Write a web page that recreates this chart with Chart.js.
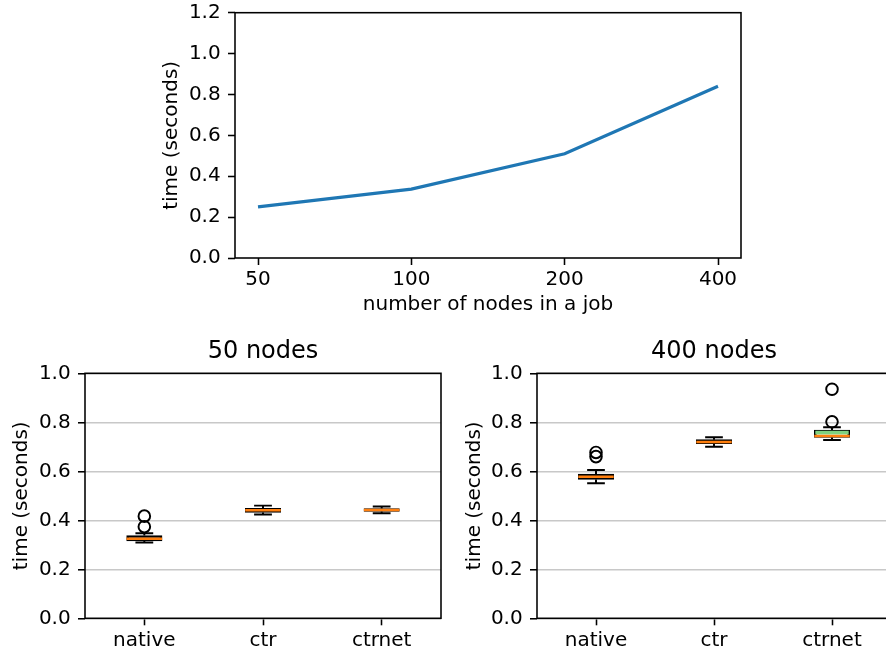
<!DOCTYPE html>
<html>
<head>
<meta charset="utf-8">
<script src="https://cdn.jsdelivr.net/npm/chart.js@4"></script>
<style>
  html, body { margin: 0; padding: 0; background: #fff; overflow: hidden; }
  body { width: 886px; height: 654px; position: relative; }
  .box { position: absolute; }
</style>
</head>
<body>
<div class="box" style="left:0;top:0;width:886px;height:320px"><canvas id="top"></canvas></div>
<div class="box" style="left:0;top:320px;width:450px;height:334px"><canvas id="left"></canvas></div>
<div class="box" style="left:451px;top:320px;width:449px;height:334px"><canvas id="right"></canvas></div>
<script>
// top panel: mean time vs job size
var nodeCounts = ['50', '100', '200', '400'];
var meanTime = [0.25, 0.337, 0.51, 0.84];
var topTicks = [0, 0.2, 0.4, 0.6, 0.8, 1.0, 1.2];

// box plots
var variants = ['native', 'ctr', 'ctrnet'];
var boxTicks = [0, 0.2, 0.4, 0.6, 0.8, 1.0];

// 50 nodes: [whisker low, q1, median, q3, whisker high]
var stats50 = [
  [0.309, 0.316, 0.325, 0.338, 0.347],
  [0.424, 0.432, 0.441, 0.449, 0.46],
  [0.429, 0.436, 0.442, 0.448, 0.456]
];
var outliers50 = [[0.374, 0.417], [], []];
var means50 = [null, null, null];

// 400 nodes
var stats400 = [
  [0.551, 0.567, 0.578, 0.589, 0.605],
  [0.70, 0.713, 0.72, 0.729, 0.739],
  [0.728, 0.738, 0.744, 0.768, 0.78]
];
var outliers400 = [[0.66, 0.677], [], [0.802, 0.935]];
var means400 = [null, null, 0.758];

Chart.defaults.font.family = 'DejaVu Sans';
Chart.defaults.font.size = 20;
Chart.defaults.color = '#000';
Chart.defaults.animation = false;

var PT = 1.95;

var framePlugin = {
  id: 'frame',
  afterDraw: function (chart) {
    var a = chart.chartArea, ctx = chart.ctx;
    ctx.save();
    ctx.strokeStyle = '#000';
    ctx.lineWidth = 0.8 * PT;
    ctx.strokeRect(a.left, a.top, a.right - a.left, a.bottom - a.top);
    ctx.restore();
  }
};

function fixedTicks(list) {
  return function (scale) {
    scale.ticks = list.map(function (v) { return { value: v }; });
  };
}

// Top line chart
new Chart(document.getElementById('top'), {
  type: 'line',
  data: {
    datasets: [{
      data: meanTime.map(function (v, i) { return { x: i, y: v }; }),
      borderColor: '#1f77b4',
      borderWidth: 1.6 * PT,
      pointRadius: 0,
      tension: 0,
      fill: false
    }]
  },
  options: {
    responsive: true,
    maintainAspectRatio: false,
    layout: { padding: { left: 160, right: 145, top: 12.7, bottom: 0 } },
    plugins: { legend: { display: false }, tooltip: { enabled: false } },
    scales: {
      x: {
        type: 'linear',
        min: -0.15, max: 3.15,
        afterBuildTicks: fixedTicks([0, 1, 2, 3]),
        afterFit: function (s) { s.height = 62; },
        ticks: { padding: 3, maxRotation: 0, callback: function (v) { return nodeCounts[v]; } },
        grid: { drawOnChartArea: false, tickLength: 7, tickColor: '#000', tickWidth: 0.8 * PT },
        border: { display: false },
        title: { display: true, text: 'number of nodes in a job', padding: { top: 0, bottom: 3 } }
      },
      y: {
        min: 0, max: 1.2,
        afterBuildTicks: fixedTicks(topTicks),
        afterFit: function (s) { s.width = 75; s.paddingTop = 0; s.paddingBottom = 0; },
        ticks: { padding: 7.3, callback: function (v) { return v.toFixed(1); } },
        grid: { drawOnChartArea: false, tickLength: 7, tickColor: '#000', tickWidth: 0.8 * PT },
        border: { display: false },
        title: { display: true, text: 'time (seconds)', padding: { top: 0, bottom: 0 } }
      }
    }
  },
  plugins: [framePlugin]
});

// whiskers, caps, medians and means drawn on the library scales
var whiskerPlugin = {
  id: 'whiskers',
  afterDatasetsDraw: function (chart) {
    var st = chart.options.plugins.whiskers;
    var xs = chart.scales.x, ys = chart.scales.y, ctx = chart.ctx;
    var half = (xs.getPixelForValue(1.15) - xs.getPixelForValue(1)) / 2;
    var boxHalf = xs.getPixelForValue(1.15) - xs.getPixelForValue(1);
    ctx.save();
    ctx.lineCap = 'butt';
    st.stats.forEach(function (s, i) {
      var cx = xs.getPixelForValue(i + 1);
      var lo = ys.getPixelForValue(s[0]), q1 = ys.getPixelForValue(s[1]);
      var md = ys.getPixelForValue(s[2]), q3 = ys.getPixelForValue(s[3]);
      var hi = ys.getPixelForValue(s[4]);
      ctx.strokeStyle = '#000';
      ctx.lineWidth = PT;
      ctx.beginPath();
      ctx.moveTo(cx, q1); ctx.lineTo(cx, lo);
      ctx.moveTo(cx, q3); ctx.lineTo(cx, hi);
      ctx.moveTo(cx - half, lo); ctx.lineTo(cx + half, lo);
      ctx.moveTo(cx - half, hi); ctx.lineTo(cx + half, hi);
      ctx.stroke();
      if (st.means[i] != null) {
        var mn = ys.getPixelForValue(st.means[i]);
        ctx.strokeStyle = '#7fd17f';
        ctx.lineWidth = 2 * PT;
        ctx.beginPath();
        ctx.moveTo(cx - boxHalf + 1, mn); ctx.lineTo(cx + boxHalf - 1, mn);
        ctx.stroke();
      }
      ctx.strokeStyle = '#ff7f0e';
      ctx.lineWidth = 1.3 * PT;
      ctx.beginPath();
      ctx.moveTo(cx - boxHalf, md); ctx.lineTo(cx + boxHalf, md);
      ctx.stroke();
    });
    ctx.restore();
  }
};

function boxChart(id, title, stats, outliers, means, yPadLeft, yWidth) {
  var fliers = [];
  outliers.forEach(function (list, i) {
    list.forEach(function (v) { fliers.push({ x: i + 1, y: v }); });
  });
  return new Chart(document.getElementById(id), {
    type: 'bar',
    data: {
      datasets: [{
        type: 'bar',
        data: stats.map(function (s, i) { return { x: i + 1, y: [s[1], s[3]] }; }),
        backgroundColor: 'rgba(255,255,255,0)',
        borderColor: '#000',
        borderWidth: PT,
        borderSkipped: false,
        barThickness: 35.4,
        order: 2
      }, {
        type: 'scatter',
        data: fliers,
        pointStyle: 'circle',
        pointRadius: 5.8,
        pointBackgroundColor: 'rgba(0,0,0,0)',
        pointBorderColor: '#000',
        pointBorderWidth: PT,
        order: 1
      }]
    },
    options: {
      responsive: true,
      maintainAspectRatio: false,
      layout: { padding: { left: yPadLeft, right: 9, top: 0, bottom: 0 } },
      plugins: {
        legend: { display: false },
        tooltip: { enabled: false },
        title: {
          display: true, text: title, fullSize: false,
          font: { size: 24, weight: 'normal' }, color: '#000',
          padding: { top: 17.6, bottom: 6.9 }
        },
        whiskers: { stats: stats, means: means }
      },
      scales: {
        x: {
          type: 'linear',
          min: 0.5, max: 3.5,
          offset: false,
          afterBuildTicks: fixedTicks([1, 2, 3]),
          afterFit: function (s) { s.height = 35.7; },
          ticks: { padding: 3, maxRotation: 0, callback: function (v) { return variants[v - 1]; } },
          grid: { drawOnChartArea: false, offset: false, tickLength: 7, tickColor: '#000', tickWidth: 0.8 * PT },
          border: { display: false }
        },
        y: {
          min: 0, max: 1.0,
          afterBuildTicks: fixedTicks(boxTicks),
          afterFit: function (s) { s.width = yWidth; },
          ticks: { padding: 7.3, callback: function (v) { return v.toFixed(1); } },
          grid: { color: '#c8c8c8', lineWidth: 0.8 * PT, tickLength: 7, tickColor: '#000', tickWidth: 0.8 * PT },
          border: { display: false },
          title: { display: true, text: 'time (seconds)', padding: { top: 0, bottom: 0 } }
        }
      }
    },
    plugins: [whiskerPlugin, framePlugin]
  });
}

boxChart('left', '50 nodes', stats50, outliers50, means50, 10, 75);
boxChart('right', '400 nodes', stats400, outliers400, means400, 12, 74);
</script>
</body>
</html>
